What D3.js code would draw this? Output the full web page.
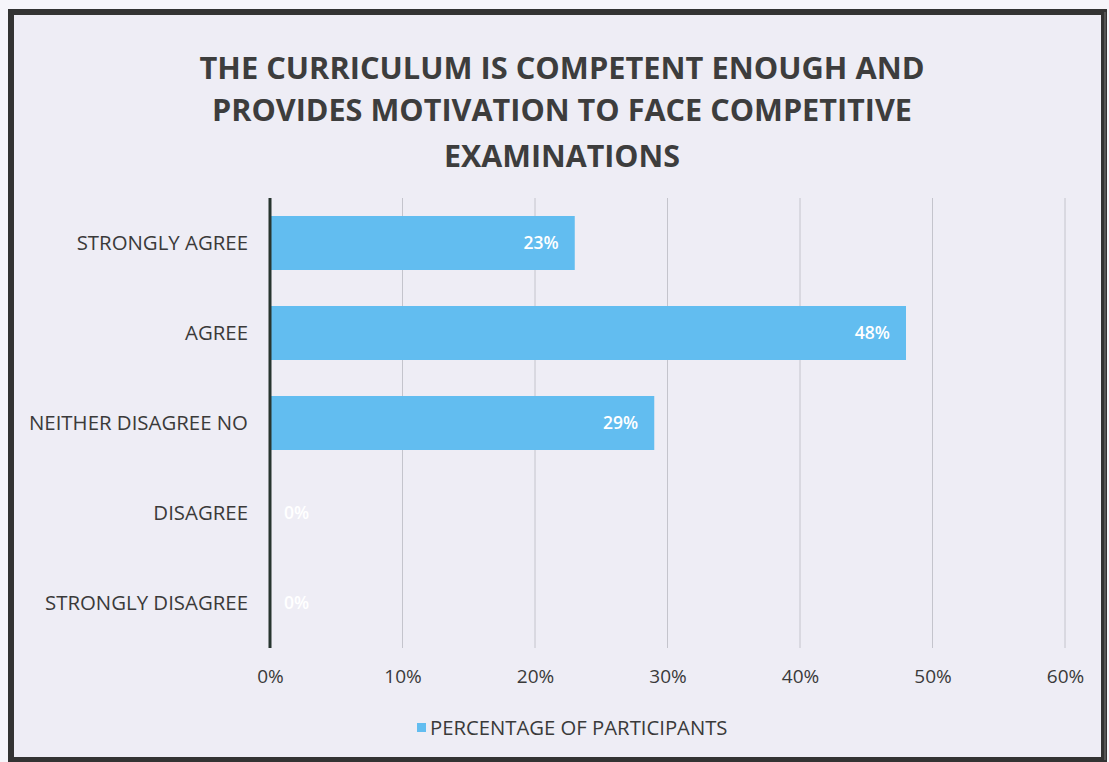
<!DOCTYPE html>
<html><head><meta charset="utf-8">
<script src="https://cdn.jsdelivr.net/npm/d3@7"></script>
<style>
html,body{margin:0;padding:0;background:#f6f5fa;}
svg{display:block;}
text{font-family:"Open Sans","Noto Sans",sans-serif;}
</style></head><body>
<svg id="chart" width="1109" height="762"></svg>
<script>
const categories = ["STRONGLY AGREE","AGREE","NEITHER DISAGREE NO","DISAGREE","STRONGLY DISAGREE"];
const values = [0.23, 0.48, 0.29, 0, 0];
const valueLabels = ["23%","48%","29%","0%","0%"];
const xTicks = [0,0.1,0.2,0.3,0.4,0.5,0.6];
const titleLines = ["THE CURRICULUM IS COMPETENT ENOUGH AND","PROVIDES MOTIVATION TO FACE COMPETITIVE","EXAMINATIONS"];
const seriesName = "PERCENTAGE OF PARTICIPANTS";

const svg = d3.select("#chart");
// background / frame
svg.append("rect").attr("x",11).attr("y",12).attr("width",1093).attr("height",748)
  .attr("fill","#eeedf5").attr("stroke","#333").attr("stroke-width",6);
svg.append("line").attr("x1",1105).attr("x2",1105).attr("y1",12).attr("y2",760).attr("stroke","#555").attr("stroke-width",2);

const x = d3.scaleLinear().domain([0,0.6]).range([270,1065]);
const y = d3.scaleBand().domain(categories).range([198,648]).paddingInner(0.4).paddingOuter(0.2);

// gridlines
svg.append("g").selectAll("line").data(xTicks.slice(1)).join("line")
  .attr("x1",d=>x(d)).attr("x2",d=>x(d)).attr("y1",198).attr("y2",648)
  .attr("stroke","#c4c4cc").attr("stroke-width",1);

// title
const titleW = [725, 700, 236];
svg.append("g").selectAll("text").data(titleLines).join("text")
  .attr("x",(d,i)=>562 - titleW[i]/2).attr("y",(d,i)=>[79,121,167][i])
  .attr("font-size",30).attr("font-weight",700).attr("fill","#3d3d3d")
  .attr("textLength",(d,i)=>titleW[i]).attr("lengthAdjust","spacingAndGlyphs")
  .text(d=>d);

// bars
svg.append("g").selectAll("rect").data(values).join("rect")
  .attr("x",x(0)).attr("y",(d,i)=>y(categories[i]))
  .attr("width",d=>x(d)-x(0)).attr("height",y.bandwidth())
  .attr("fill","#62bdf0");

// value labels
svg.append("g").selectAll("text").data(values).join("text")
  .attr("x",(d,i)=> d>0 ? x(d)-16 : x(0)+14)
  .attr("y",(d,i)=>y(categories[i])+y.bandwidth()/2+6)
  .attr("text-anchor",d=>d>0?"end":"start")
  .attr("font-size",17.5).attr("font-weight",600).attr("fill","#ffffff")
  .text((d,i)=>valueLabels[i]);

// y axis
const yAxis = d3.axisLeft(y).tickSize(0).tickPadding(22);
const gy = svg.append("g").attr("transform",`translate(${x(0)},0)`).call(yAxis);
gy.select(".domain").remove();
gy.selectAll("text").attr("font-size",20.4).attr("fill","#3a3a3a").attr("font-family","'Open Sans',sans-serif");
svg.append("line").attr("x1",x(0)).attr("x2",x(0)).attr("y1",198).attr("y2",648)
  .attr("stroke","#27352f").attr("stroke-width",3);

// x axis labels
const xAxis = d3.axisBottom(x).tickValues(xTicks).tickFormat(d3.format(".0%")).tickSize(0).tickPadding(22);
const gx = svg.append("g").attr("transform","translate(0,648)").call(xAxis);
gx.select(".domain").remove();
gx.selectAll("text").attr("font-size",19).attr("fill","#3a3a3a").attr("font-family","'Open Sans',sans-serif");

// legend
svg.append("rect").attr("x",417).attr("y",723).attr("width",9).attr("height",9).attr("fill","#62bdf0");
svg.append("text").attr("x",430).attr("y",735).attr("font-size",20.3).attr("fill","#3a3a3a").text(seriesName);
</script>
</body></html>
